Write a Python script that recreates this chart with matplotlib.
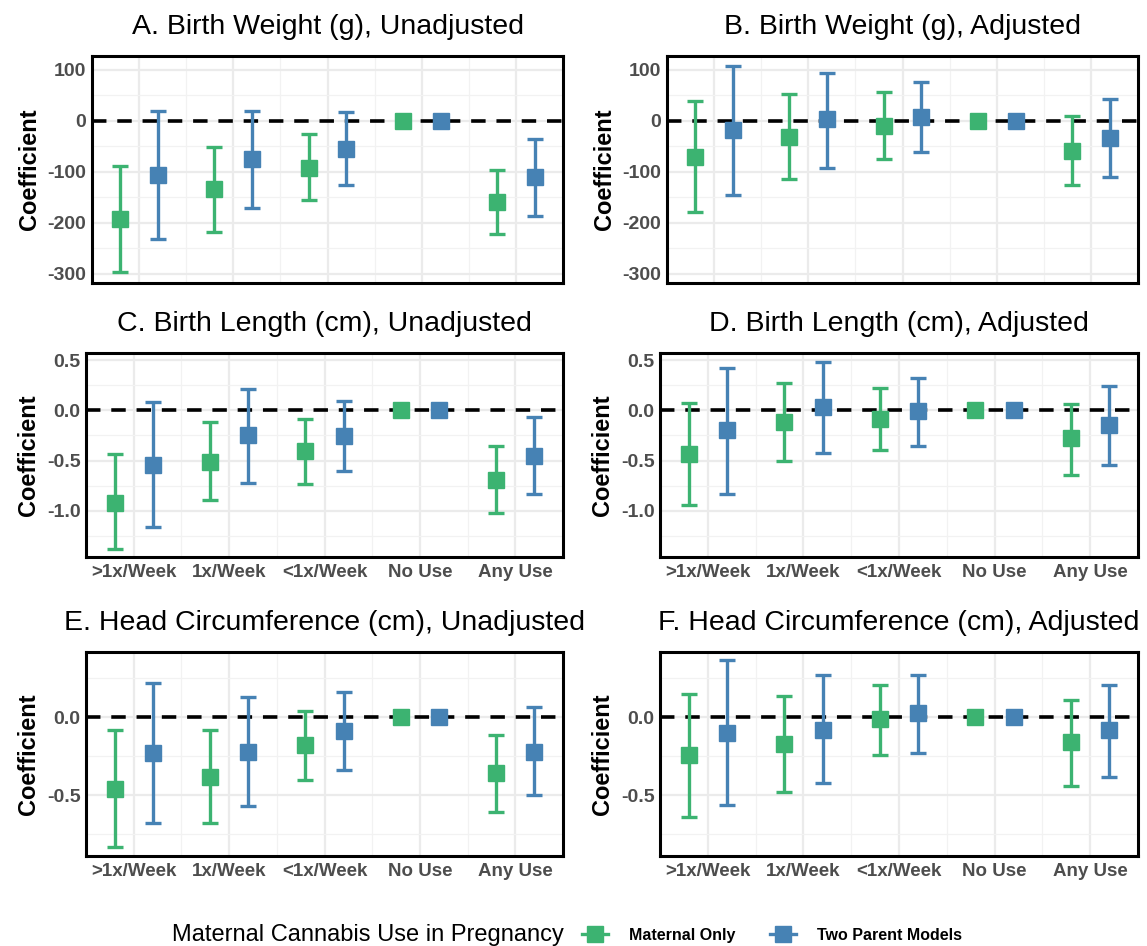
import numpy as np
import matplotlib.pyplot as plt
from matplotlib.lines import Line2D
from matplotlib.ticker import MultipleLocator

plt.rcParams['font.family'] = ['Liberation Sans', 'DejaVu Sans']
plt.rcParams['axes.unicode_minus'] = False

categories = ['>1x/Week', '1x/Week', '<1x/Week', 'No Use', 'Any Use']
series = ['Maternal Only', 'Two Parent Models']
colors = {'Maternal Only': '#3CB371', 'Two Parent Models': '#4682B4'}

# estimate, lower CI, upper CI for each category
bw_unadj_mat = [-192, -134, -92, 0, -159]
bw_unadj_mat_lo = [-296, -218, -155, 0, -221]
bw_unadj_mat_hi = [-89, -52, -26, 0, -97]
bw_unadj_two = [-107, -74, -56, 0, -110]
bw_unadj_two_lo = [-232, -171, -126, 0, -186]
bw_unadj_two_hi = [19, 19, 17, 0, -36]

bw_adj_mat = [-71, -31, -10, 0, -60]
bw_adj_mat_lo = [-179, -114, -74, 0, -126]
bw_adj_mat_hi = [38, 53, 56, 0, 9]
bw_adj_two = [-18, 3, 8, 0, -34]
bw_adj_two_lo = [-145, -92, -61, 0, -110]
bw_adj_two_hi = [108, 94, 77, 0, 43]

bl_unadj_mat = [-0.92, -0.51, -0.41, 0, -0.69]
bl_unadj_mat_lo = [-1.38, -0.89, -0.73, 0, -1.02]
bl_unadj_mat_hi = [-0.44, -0.12, -0.09, 0, -0.36]
bl_unadj_two = [-0.54, -0.25, -0.26, 0, -0.45]
bl_unadj_two_lo = [-1.16, -0.72, -0.60, 0, -0.83]
bl_unadj_two_hi = [0.08, 0.21, 0.09, 0, -0.07]

bl_adj_mat = [-0.44, -0.12, -0.09, 0, -0.28]
bl_adj_mat_lo = [-0.94, -0.50, -0.40, 0, -0.64]
bl_adj_mat_hi = [0.07, 0.27, 0.22, 0, 0.06]
bl_adj_two = [-0.20, 0.03, -0.01, 0, -0.15]
bl_adj_two_lo = [-0.83, -0.43, -0.36, 0, -0.54]
bl_adj_two_hi = [0.42, 0.48, 0.32, 0, 0.24]

hc_unadj_mat = [-0.46, -0.38, -0.18, 0, -0.36]
hc_unadj_mat_lo = [-0.83, -0.68, -0.40, 0, -0.61]
hc_unadj_mat_hi = [-0.08, -0.08, 0.04, 0, -0.11]
hc_unadj_two = [-0.23, -0.22, -0.09, 0, -0.22]
hc_unadj_two_lo = [-0.68, -0.57, -0.34, 0, -0.50]
hc_unadj_two_hi = [0.22, 0.13, 0.165, 0, 0.07]

hc_adj_mat = [-0.24, -0.17, -0.01, 0, -0.16]
hc_adj_mat_lo = [-0.64, -0.48, -0.24, 0, -0.44]
hc_adj_mat_hi = [0.15, 0.14, 0.21, 0, 0.11]
hc_adj_two = [-0.10, -0.08, 0.03, 0, -0.08]
hc_adj_two_lo = [-0.56, -0.42, -0.23, 0, -0.38]
hc_adj_two_hi = [0.37, 0.27, 0.27, 0, 0.21]

panels = [
    ('A. Birth Weight (g), Unadjusted',
     [(bw_unadj_mat, bw_unadj_mat_lo, bw_unadj_mat_hi), (bw_unadj_two, bw_unadj_two_lo, bw_unadj_two_hi)]),
    ('B. Birth Weight (g), Adjusted',
     [(bw_adj_mat, bw_adj_mat_lo, bw_adj_mat_hi), (bw_adj_two, bw_adj_two_lo, bw_adj_two_hi)]),
    ('C. Birth Length (cm), Unadjusted',
     [(bl_unadj_mat, bl_unadj_mat_lo, bl_unadj_mat_hi), (bl_unadj_two, bl_unadj_two_lo, bl_unadj_two_hi)]),
    ('D. Birth Length (cm), Adjusted',
     [(bl_adj_mat, bl_adj_mat_lo, bl_adj_mat_hi), (bl_adj_two, bl_adj_two_lo, bl_adj_two_hi)]),
    ('E. Head Circumference (cm), Unadjusted',
     [(hc_unadj_mat, hc_unadj_mat_lo, hc_unadj_mat_hi), (hc_unadj_two, hc_unadj_two_lo, hc_unadj_two_hi)]),
    ('F. Head Circumference (cm), Adjusted',
     [(hc_adj_mat, hc_adj_mat_lo, hc_adj_mat_hi), (hc_adj_two, hc_adj_two_lo, hc_adj_two_hi)]),
]

# per-row y settings: limits, major step, minor step, tick format
row_y = [((-318, 127), 100, 50, '{x:.0f}'),
         ((-1.46, 0.57), 0.5, 0.25, '{x:.1f}'),
         ((-0.89, 0.42), 0.5, 0.25, '{x:.1f}')]

W, H = 1147, 946
fig = plt.figure(figsize=(W / 100, H / 100), dpi=100)

# axes boxes in pixels: left, top, right, bottom
boxes = [(92, 56, 563, 283), (667, 56, 1138, 283),
         (86, 353, 563, 557), (660, 353, 1138, 557),
         (86, 652, 563, 856), (660, 652, 1138, 856)]

x = np.arange(1, len(categories) + 1)
dodge = 0.2

for k, (title, data) in enumerate(panels):
    l, t, r, b = boxes[k]
    ax = fig.add_axes([l / W, 1 - b / H, (r - l) / W, (b - t) / H])
    row = k // 2
    ylim, major, minor, fmt = row_y[row]

    ax.axhline(0, color='black', lw=2.6, ls=(0, (4, 3)), zorder=3)
    for s, (est, lo, hi) in enumerate(data):
        est = np.array(est)
        err = [est - np.array(lo), np.array(hi) - est]
        xs = x + (-dodge if s == 0 else dodge)
        ax.errorbar(xs, est, yerr=err, fmt='s', color=colors[series[s]],
                    ms=11, elinewidth=2.4, capsize=5.5, capthick=2.4, zorder=4)

    ax.set_xlim(0.5, 5.5)
    ax.set_ylim(*ylim)
    ax.set_xticks(x)
    ax.xaxis.set_minor_locator(MultipleLocator(0.5))
    ax.yaxis.set_major_locator(MultipleLocator(major))
    ax.yaxis.set_minor_locator(MultipleLocator(minor))
    ax.yaxis.set_major_formatter(fmt)
    ax.grid(which='major', color='#EBEBEB', lw=1.6, zorder=0)
    ax.grid(which='minor', color='#F2F2F2', lw=0.9, zorder=0)
    ax.set_axisbelow(True)
    ax.tick_params(which='both', length=0)
    ax.tick_params(axis='y', labelsize=14, labelcolor='#4D4D4D', pad=4)
    for lbl in ax.get_yticklabels():
        lbl.set_fontweight('bold')
    if row == 0:
        ax.set_xticklabels([])
    else:
        ax.set_xticklabels(categories, fontsize=13.5, fontweight='bold', color='#4D4D4D')
        ax.tick_params(axis='x', pad=5)
    for sp in ax.spines.values():
        sp.set_linewidth(2.2)
        sp.set_color('black')
    ax.set_ylabel('Coefficient', fontsize=17, fontweight='bold', labelpad=5)
    ax.set_title(title, fontsize=20.5, pad=16)

# shared legend along the bottom
fig.text(172 / W, 1 - 935 / H, 'Maternal Cannabis Use in Pregnancy', fontsize=17, va='center')
handles = [Line2D([0], [0], color=colors[s], marker='s', ms=11, lw=2.4) for s in series]
fig.legend(handles, series, loc='center left', bbox_to_anchor=(568 / W, 1 - 935 / H),
           ncol=2, frameon=False, handlelength=1.6, handletextpad=1.3, columnspacing=2.2,
           prop={'size': 11.5, 'weight': 'bold'})

fig.savefig('out.png', dpi=100, facecolor='white')
